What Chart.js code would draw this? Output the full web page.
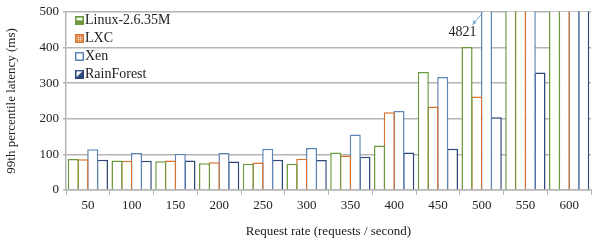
<!DOCTYPE html>
<html>
<head>
<meta charset="utf-8">
<script src="https://cdn.jsdelivr.net/npm/chart.js@4"></script>
<style>
  html, body { margin: 0; padding: 0; background: #fff; }
  #wrap { width: 594px; height: 243px; }
</style>
</head>
<body>
<div id="wrap"><canvas id="c" width="594" height="243"></canvas></div>
<script>
var labels = ['50', '100', '150', '200', '250', '300', '350', '400', '450', '500', '550', '600'];
// values above 500 run off the top of the plot (read as "off scale")
var linux = [87, 83, 81, 75, 74, 74, 105, 125, 331, 401, 1200, 1800];
var lxc = [86, 82, 83, 78, 77, 88, 97, 218, 234, 262, 1100, 1700];
var xen = [114, 104, 102, 104, 116, 118, 156, 222, 317, 4821, 5200, 5600];
var rainforest = [85, 82, 83, 80, 85, 84, 93, 105, 116, 204, 330, 900];

var colors = ['#6b9a3c', '#d9722e', '#5f85b5', '#2c4679'];
var FONT = "'Liberation Serif', 'DejaVu Serif', serif";

function makeIcon(kind, color){
  var c = document.createElement('canvas');
  c.width = 9; c.height = 9;
  var g = c.getContext('2d');
  g.fillStyle = '#fff';
  g.fillRect(0, 0, 9, 9);
  g.fillStyle = color;
  if (kind == 0) {
    g.fillRect(0, 4, 9, 5);
  } else if (kind == 1) {
    g.fillRect(0, 0, 9, 9);
    g.fillStyle = 'rgba(255,255,255,0.45)';
    for (var i = 1; i < 9; i += 2) { g.fillRect(i, 0, 1, 9); g.fillRect(0, i, 9, 1); }
  } else if (kind == 3) {
    g.beginPath(); g.moveTo(0, 9); g.lineTo(9, 0); g.lineTo(9, 9); g.closePath(); g.fill();
  }
  g.strokeStyle = color;
  g.lineWidth = 1.5;
  g.strokeRect(0.75, 0.75, 7.5, 7.5);
  return c;
}

// legend drawn inside the plot, one entry per row
var legendBox = {
  id: 'legendBox',
  afterDraw: function(chart){
    var ctx = chart.ctx;
    var area = chart.chartArea;
    ctx.save();
    ctx.font = '14px ' + FONT;
    ctx.textBaseline = 'middle';
    ctx.fillStyle = '#222';
    chart.data.datasets.forEach(function(ds, i){
      var y = area.top + 9 + i * 17.8;
      ctx.drawImage(makeIcon(i, colors[i]), area.left + 9, y - 4.5);
      ctx.fillText(ds.label, area.left + 19, y);
    });
    ctx.restore();
  }
};

// "4821" callout for the off-scale Xen bar at 500
var callout = {
  id: 'callout',
  afterDraw: function(chart){
    var bar = chart.getDatasetMeta(2).data[9];
    var area = chart.chartArea;
    var ctx = chart.ctx;
    ctx.save();
    ctx.strokeStyle = '#7aa6d8';
    ctx.fillStyle = '#7aa6d8';
    ctx.lineWidth = 1;
    var x1 = bar.x - 4, y1 = area.top + 1;
    var x2 = bar.x - 14, y2 = area.top + 13;
    ctx.beginPath(); ctx.moveTo(x1, y1); ctx.lineTo(x2, y2); ctx.stroke();
    ctx.beginPath();
    ctx.moveTo(x2, y2); ctx.lineTo(x2 + 1, y2 - 5); ctx.lineTo(x2 + 4, y2 - 2); ctx.closePath();
    ctx.fill();
    ctx.fillStyle = '#222';
    ctx.font = '14px ' + FONT;
    ctx.textAlign = 'center';
    ctx.textBaseline = 'middle';
    ctx.fillText('4821', bar.x - 24, area.top + 21);
    ctx.restore();
  }
};

var names = ['Linux-2.6.35M', 'LXC', 'Xen', 'RainForest'];
var series = [linux, lxc, xen, rainforest];
var datasets = [];
for (let i = 0; i < series.length; i++) {
  datasets.push({
    label: names[i],
    data: series[i],
    backgroundColor: '#ffffff',
    borderColor: colors[i],
    borderWidth: 1.5,
    borderSkipped: 'bottom',
    categoryPercentage: 0.89,
    barPercentage: 1.14   // slight overlap so neighbouring bars share one edge
  });
}

const ctx = document.getElementById('c').getContext('2d');
const myChart = new Chart(ctx, {
  type: 'bar',
  data: { labels: labels, datasets: datasets },
  options: {
    responsive: false,
    animation: false,
    layout: { padding: { top: 11, right: 3, left: 0, bottom: 0 } },
    plugins: { legend: { display: false }, tooltip: { enabled: false } },
    scales: {
      x: {
        afterFit: function(s){ s.height = 53; },
        grid: { drawOnChartArea: false, color: '#b5b5b5', tickLength: 5, offset: true },
        border: { color: '#b5b5b5', width: 1.5 },
        ticks: { color: '#222', font: { family: FONT, size: 13 }, padding: 3 },
        title: { display: true, text: 'Request rate (requests / second)', color: '#222', font: { family: FONT, size: 13 }, padding: { top: 3 } }
      },
      y: {
        min: 0,
        max: 500,
        afterFit: function(s){ s.width = 66; },
        grid: { color: '#b5b5b5', lineWidth: 1.5, tickLength: 3 },
        border: { color: '#b5b5b5', width: 1.5 },
        ticks: { stepSize: 100, color: '#222', font: { family: FONT, size: 13 }, padding: 4 },
        title: { display: true, text: '99th percentile latency (ms)', color: '#222', font: { family: FONT, size: 13 }, padding: { bottom: 2 } }
      }
    }
  },
  plugins: [legendBox, callout]
});
</script>
</body>
</html>
